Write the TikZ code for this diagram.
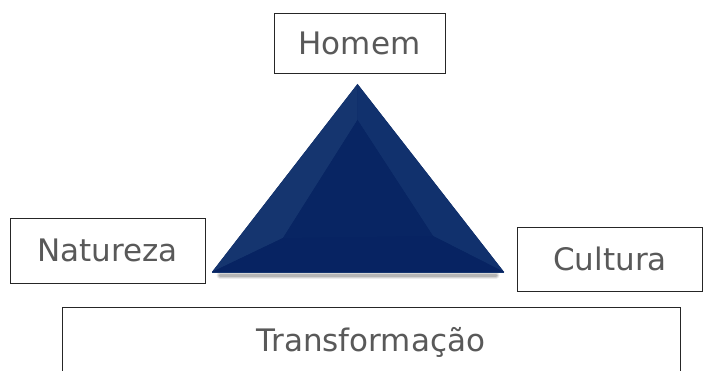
\documentclass[tikz,border=0pt]{standalone}
\usepackage{fontspec}
\usetikzlibrary{calc}
\newfontfamily\boxfont{DejaVu Sans}
\definecolor{textgray}{HTML}{595959}
\definecolor{navyedge}{HTML}{15356F}
\definecolor{navyside}{HTML}{11316D}
\definecolor{navybase}{HTML}{072362}
\definecolor{navymid}{HTML}{082563}
\tikzset{
	termbox/.style={draw=black!85, line width=0.8pt, fill=white, text=textgray,
		font=\boxfont\fontsize{31}{37}\selectfont, inner sep=0pt}
}
\begin{document}
\begin{tikzpicture}[x=1pt,y=1pt]
	\useasboundingbox (0,0) rectangle (703,370);

	\node[termbox, minimum width=171, minimum height=60] (homem) at (359.5,327) {Homem};
	\node[termbox, minimum width=195, minimum height=65] (natureza) at (107.5,119.5) {Natureza};
	\node[termbox, minimum width=185, minimum height=64] (cultura) at (610,111) {Cultura};
	\node[termbox, anchor=north, minimum width=618, text height=23, text depth=60, inner ysep=21] (transf) at (371,63) {Transformação};

	\coordinate (apex) at (357.5,286);
	\coordinate (bl) at (212,98);
	\coordinate (br) at (504,98);
	\coordinate (itop) at (357.5,250);
	\coordinate (ileft) at (283,132);
	\coordinate (iright) at (433,134);

	\foreach \o/\w in {0.07/7, 0.1/5, 0.15/3}
		\draw[black, opacity=\o, line width=\w, line cap=round] ($(bl)+(8,-3)$) -- ($(br)+(-8,-3)$);
	\fill[navymid] (apex) -- (bl) -- (br) -- cycle;
	\fill[navyedge] (apex) -- (bl) -- (ileft) -- (itop) -- cycle;
	\fill[navyside] (apex) -- (itop) -- (iright) -- (br) -- cycle;
	\fill[navybase] (bl) -- (br) -- (iright) -- (ileft) -- cycle;
	\fill[navymid] (itop) -- (ileft) -- (iright) -- cycle;
	\draw[navyedge, line width=0.6pt] (bl) -- (br);
\end{tikzpicture}
\end{document}
